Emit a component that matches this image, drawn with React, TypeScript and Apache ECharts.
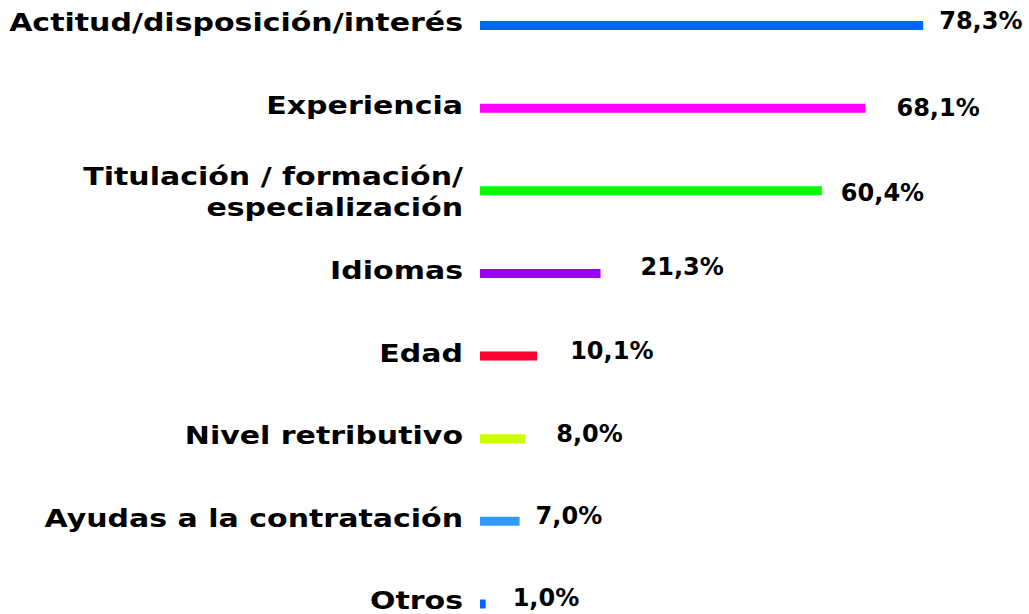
import React, { useEffect, useRef } from "react";
import * as echarts from "echarts";

const categories = [
  "Actitud/disposición/interés",
  "Experiencia",
  "Titulación / formación/\nespecialización",
  "Idiomas",
  "Edad",
  "Nivel retributivo",
  "Ayudas a la contratación",
  "Otros",
];
const values = [78.3, 68.1, 60.4, 21.3, 10.1, 8.0, 7.0, 1.0];
const colors = ["#0066FF", "#FF00FF", "#00FF00", "#9900FF", "#FF0033", "#CCFF00", "#3399FF", "#0066FF"];
const valueLabelOffsets = [[0, -5], [15, 0], [3, 2], [24, -6], [17, -5], [15, -5], [0, -5], [11, -6]];
const categoryLabelDy = [-3, -3, 1, -3, -3, -3, -3, -4];

export default function App() {
  const ref = useRef<HTMLDivElement>(null);
  useEffect(() => {
    if (!ref.current) return;
    const chart = echarts.init(ref.current, null, { renderer: "svg" });
    const font = "'DejaVu Sans', Verdana, sans-serif";
    chart.setOption({
      animation: false,
      grid: {
        left: 480,
        top: 25.5,
        width: 509.4,
        height: 578.5,
        containLabel: false,
        outerBoundsMode: "none",
      },
      xAxis: {
        type: "value",
        min: 0,
        max: 90,
        show: false,
      },
      yAxis: {
        type: "category",
        data: categories,
        inverse: true,
        boundaryGap: false,
        axisLine: { show: false },
        axisTick: { show: false },
        splitLine: { show: false },
        axisLabel: { show: false },
      },
      series: [
        {
          type: "bar",
          barWidth: 9,
          data: values.map((v, i) => ({
            value: v,
            itemStyle: { color: colors[i] },
            label: { offset: valueLabelOffsets[i] },
          })),
          label: {
            show: true,
            position: "right",
            distance: 16,
            color: "#000",
            fontFamily: font,
            fontWeight: "bold",
            fontSize: 24,
            lineHeight: 24,
            formatter: (p: any) => p.value.toFixed(1).replace(".", ",") + "%",
          },
        },
        {
          type: "custom",
          clip: false,
          silent: true,
          encode: { x: 0, y: 1 },
          data: categories.map((c, i) => [0, i]),
          renderItem: (params: any, api: any) => {
            const idx = params.dataIndex;
            const p = api.coord([0, idx]);
            const text = categories[idx];
            return {
              type: "text",
              x: p[0] - 17,
              y: p[1] + categoryLabelDy[idx],
              scaleX: 1.2,
              style: {
                text,
                fill: "#000",
                fontFamily: font,
                fontWeight: "bold",
                fontSize: 25,
                lineHeight: text.indexOf("\n") >= 0 ? 31 : 25,
                align: "right",
                verticalAlign: "middle",
              },
            };
          },
        },
      ],
    });
    return () => chart.dispose();
  }, []);
  return <div ref={ref} style={{ width: 1029, height: 614, position: "absolute", left: 0, top: 0 }} />;
}
